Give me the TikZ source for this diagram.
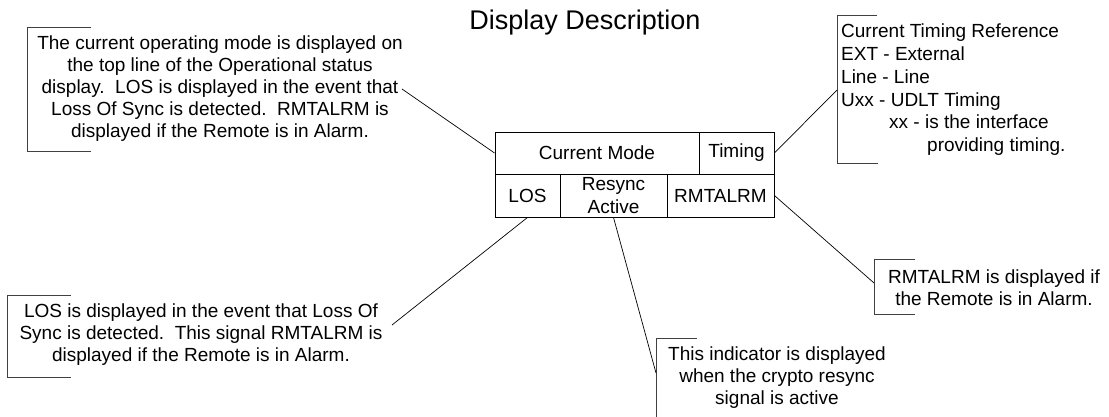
\documentclass[tikz,border=0pt]{standalone}
\usepackage{fontspec}
\setmainfont{Liberation Sans}
\begin{document}
\begin{tikzpicture}[x=1pt,y=-1pt,
  txt/.style={font=\fontsize{19}{22}\selectfont, inner sep=0pt, align=center},
  cell/.style={draw, line width=0.9pt, font=\fontsize{19}{22.5}\selectfont, inner sep=0pt, align=center},
  bracket/.style={draw=black!75, line width=1pt},
  conn/.style={draw, line width=0.7pt}]
\useasboundingbox (0,0) rectangle (1109,416);

% title
\node[font=\fontsize{27}{32}\selectfont, inner sep=0pt, anchor=base] (title) at (585,29) {Display Description};

% status display box
\node[cell, minimum width=204pt, minimum height=42pt] (mode) at (597,153) {Current Mode};
\node[cell, minimum width=75pt, minimum height=42pt] (timing) at (736.5,153) {Timing};
\node[cell, minimum width=65pt, minimum height=43pt] (los) at (527.5,195.5) {LOS};
\node[cell, minimum width=107pt, minimum height=43pt] (resync) at (613.5,195.5) {Resync\\Active};
\node[cell, minimum width=107pt, minimum height=43pt] (rmt) at (720.5,195.5) {RMTALRM};

% callout: top left
\draw[bracket] (91,27) -- (27,27) -- (27,151) -- (91,151);
\node[txt] (tltext) at (220,89) {The current operating mode is displayed on\\the top line of the Operational status\\display.\ \ LOS is displayed in the event that\\Loss Of Sync is detected.\ \ RMTALRM is\\displayed if the Remote is in Alarm.};
\coordinate (tlend) at (402,89);
\draw[conn] (tlend) -- (mode.west);

% callout: timing
\draw[bracket] (877,15) -- (837,15) -- (837,163) -- (878,163);
\node[txt, font=\fontsize{19}{22.7}\selectfont, align=left, anchor=north west] (trtext) at (841,24) {Current Timing Reference\\EXT - External\\Line - Line\\Uxx - UDLT Timing\\\hspace*{48pt}xx - is the interface\\\hspace*{86pt}providing timing.};
\coordinate (trend) at (837,90);
\draw[conn] (timing.east) -- (trend);

% callout: LOS
\draw[bracket] (71,295) -- (7,295) -- (7,377) -- (71,377);
\node[txt] (bltext) at (201,335) {LOS is displayed in the event that Loss Of\\Sync is detected.\ \ This signal RMTALRM is\\displayed if the Remote is in Alarm.};
\coordinate (blend) at (392,325);
\draw[conn] (los.south) -- (blend);

% callout: resync
\draw[bracket] (697,338) -- (656,338) -- (656,417);
\node[txt] (rstext) at (777,378) {This indicator is displayed\\when the crypto resync\\signal is active};
\coordinate (rsend) at (656,373);
\draw[conn] (resync.south) -- (rsend);

% callout: RMTALRM
\draw[bracket] (915,259) -- (874,259) -- (874,314) -- (915,314);
\node[txt] (rmtext) at (994,288) {RMTALRM is displayed if\\the Remote is in Alarm.};
\coordinate (rmend) at (874,283);
\draw[conn] (rmt.east) -- (rmend);
\end{tikzpicture}
\end{document}
